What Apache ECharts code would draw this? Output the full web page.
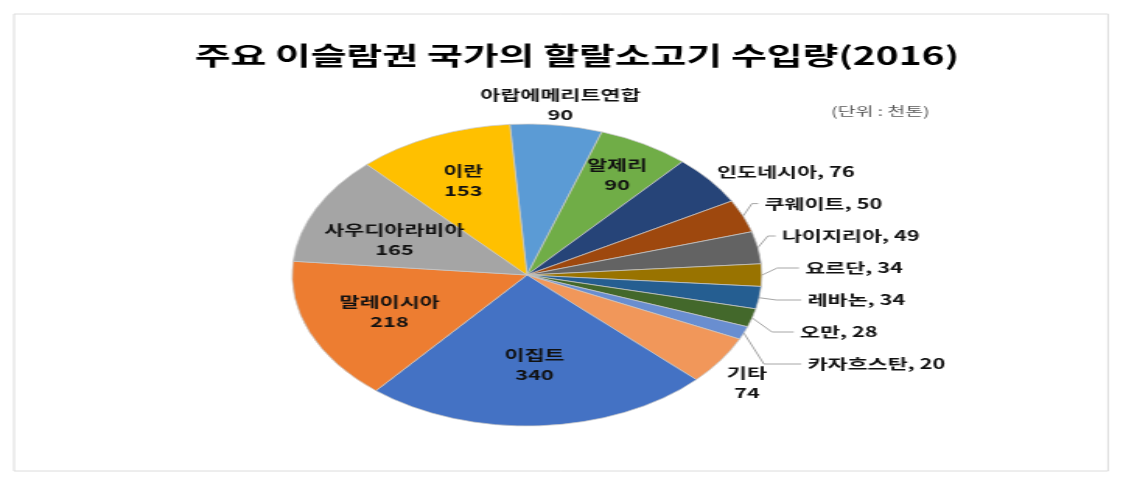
<!DOCTYPE html>
<html>
<head>
<meta charset="utf-8">
<script src="https://cdn.jsdelivr.net/npm/echarts@6/dist/echarts.min.js"></script>
<style>
  html, body { margin: 0; padding: 0; background: #ffffff; overflow: hidden; }
  #chart { width: 722px; height: 480px; transform: scaleX(1.5554); transform-origin: 0 0; }
</style>
</head>
<body>
<div id="chart"></div>
<script>
// ---- data ----
const categories = ['아랍에메리트연합', '알제리', '인도네시아', '쿠웨이트', '나이지리아', '요르단', '레바논', '오만', '카자흐스탄', '기타', '이집트', '말레이시아', '사우디아라비아', '이란'];
const values = [90, 90, 76, 50, 49, 34, 34, 28, 20, 74, 340, 218, 165, 153];
const titleText = '주요 이슬람권 국가의 할랄소고기 수입량(2016)';
const unitText = '(단위 : 천톤)';

// ---- styles ----
const colors = ['#5B9BD5', '#70AD47', '#264478', '#9E480E', '#636363', '#997300', '#255E91', '#43682B', '#698ED0', '#F1975A', '#4472C4', '#ED7D31', '#A5A5A5', '#FFC000'];
// label style per slice: 'side' = outside one-line with leader line; a number = two-line label
// centred in a transparent label band starting at that inner radius (bands >= R sit outside the pie)
const labelBand = [151, 75, 'side', 'side', 'side', 'side', 'side', 'side', 'side', 151, 22, 34, 33, 48];
const leaderLen = [0, 0, 1, 12, 12, 14, 14, 14, 14, 0, 0, 0, 0, 0];
const leaderLen2 = [0, 0, 0, 4, 5, 14, 16, 14, 24, 0, 0, 0, 0, 0];
const labelGap = { 9: 22, 12: 14 };   // extra blank space above some two-line labels
const font = '"Noto Sans CJK KR", "Noto Sans", sans-serif';
const CX = 338.8, CY = 275, R = 151, RING = 186, START = 94.2;
const SIDE_BOTTOM = 380;   // lower bound of the side-label column

const baseLabel = { fontFamily: font, fontSize: 14, fontWeight: 'bold', color: '#111', lineHeight: 20 };

const mainData = categories.map((n, i) => {
  const side = labelBand[i] === 'side';
  return {
    name: n, value: values[i],
    itemStyle: { color: colors[i] },
    label: { show: side },
    labelLine: { show: side && leaderLen2[i] > 0, length: leaderLen[i], length2: leaderLen2[i] }
  };
});

function overlay(band) {
  return {
    type: 'pie', name: 'labels' + band, center: [CX, CY],
    radius: band >= R ? [R, RING] : [band, R],
    startAngle: START, clockwise: true,
    silent: true, z: 3, avoidLabelOverlap: false,
    itemStyle: { color: 'rgba(0,0,0,0)', borderWidth: 0 },
    label: Object.assign({ position: 'inside', formatter: '{b}\n{c}' }, baseLabel),
    labelLine: { show: false },
    emphasis: { disabled: true },
    data: categories.map((n, i) => {
      const lab = { show: labelBand[i] === band };
      if (labelGap[i]) {
        lab.formatter = '{g|\u00a0}\n{b}\n{c}';
        lab.rich = { g: { fontSize: 2, lineHeight: labelGap[i] } };
      }
      return { name: n, value: values[i], label: lab };
    })
  };
}
const bands = [...new Set(labelBand.filter(b => b !== 'side'))];

const chart = echarts.init(document.getElementById('chart'));
chart.setOption({
  backgroundColor: '#ffffff',
  animation: false,
  title: {
    text: titleText,
    left: 366, top: 38, textAlign: 'center',
    textStyle: { fontFamily: font, fontSize: 25, fontWeight: 'bold', color: '#000' }
  },
  graphic: [
    { type: 'rect', shape: { x: 9, y: 14, width: 703.4, height: 457 }, style: { fill: 'none', stroke: '#dcdcdc', lineWidth: 1 }, silent: true },
    { type: 'text', x: 566, y: 111, style: { text: unitText, fontFamily: font, fontSize: 12.5, fill: '#595959', textAlign: 'center', textVerticalAlign: 'middle' }, silent: true }
  ],
  series: [
    {
      type: 'pie', name: 'main', left: 0, top: 0, width: 722, height: SIDE_BOTTOM,
      center: [CX, CY], radius: [0, R], startAngle: START, clockwise: true,
      avoidLabelOverlap: true, minShowLabelAngle: 0,
      itemStyle: { borderColor: 'rgba(200,200,200,0.9)', borderWidth: 0.8 },
      label: Object.assign({}, baseLabel, { position: 'outside', formatter: '{b}, {c}', distanceToLabelLine: 4, lineHeight: 30 }),
      labelLine: { show: true, smooth: false, lineStyle: { color: '#a6a6a6', width: 1 } },
      emphasis: { disabled: true },
      data: mainData
    }
  ].concat(bands.map(overlay))
});
</script>
</body>
</html>
